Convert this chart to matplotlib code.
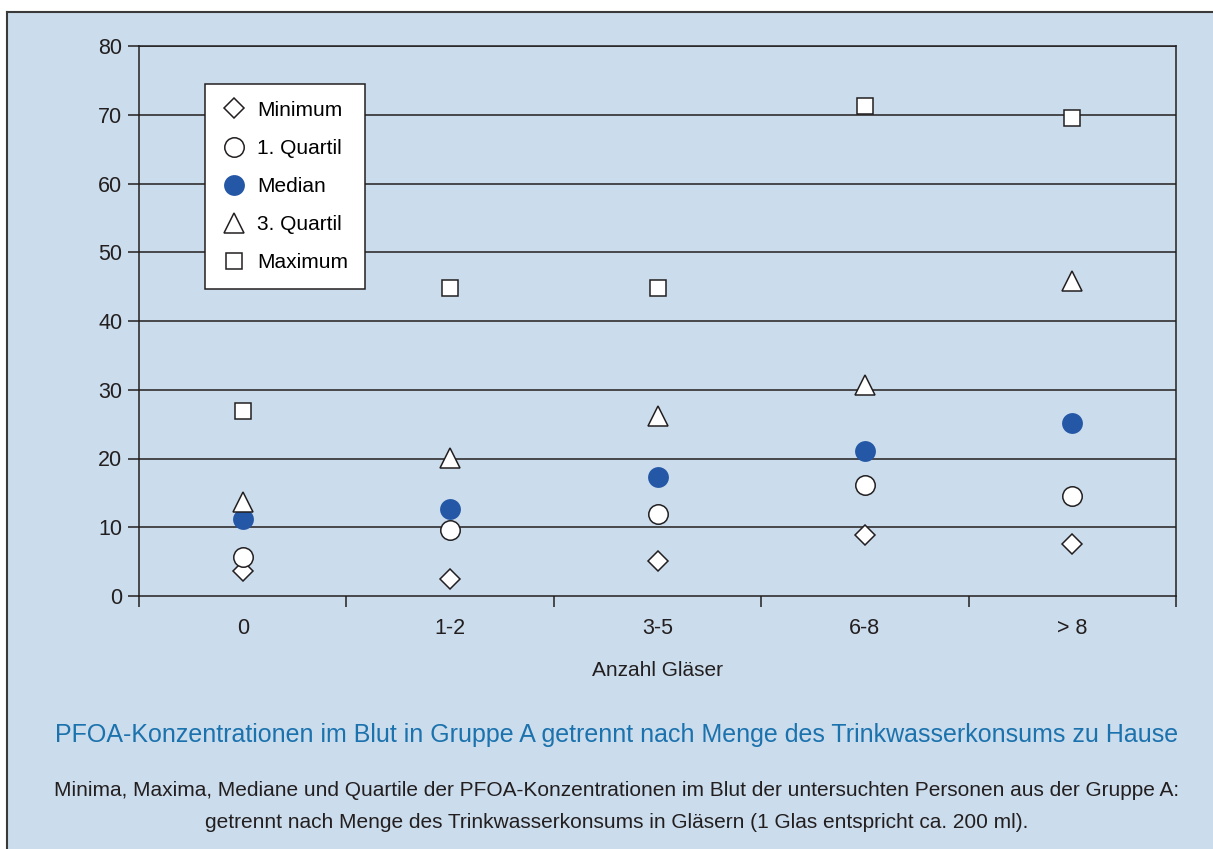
import matplotlib
matplotlib.use("Agg")
import matplotlib.pyplot as plt
from matplotlib import font_manager
from matplotlib.lines import Line2D
from matplotlib.patches import Rectangle

names = {f.name for f in font_manager.fontManager.ttflist}
FONT = "Liberation Sans Narrow" if "Liberation Sans Narrow" in names else "Liberation Sans"
plt.rcParams['font.family'] = [FONT, 'DejaVu Sans']

categories = ["0", "1-2", "3-5", "6-8", "> 8"]
minimum = [3.6, 2.5, 5.1, 8.9, 7.6]
quartil1 = [5.7, 9.6, 11.9, 16.1, 14.5]
median = [11.2, 12.7, 17.3, 21.1, 25.2]
quartil3 = [13.7, 20.1, 26.2, 30.7, 45.8]
maximum = [26.9, 44.8, 44.8, 71.3, 69.5]
yticks = [0, 10, 20, 30, 40, 50, 60, 70, 80]

BG = "#cbdcec"
DARK = "#231f20"
BLUE = "#2457a6"
TITLE = "#1b72ad"

fig = plt.figure(figsize=(12.13, 8.49), dpi=100)
fig.patch.set_facecolor("white")
# background panel with top/left border
fig.patches.append(Rectangle((7/1213, 0), 1 - 7/1213, 1 - 12/849, transform=fig.transFigure,
                             facecolor=BG, edgecolor="none", zorder=-10))
fig.add_artist(Line2D([7/1213, 1], [1 - 12/849, 1 - 12/849], transform=fig.transFigure, color="#3a3a3a", lw=1.5))
fig.add_artist(Line2D([7/1213, 7/1213], [0, 1 - 12/849], transform=fig.transFigure, color="#3a3a3a", lw=1.5))

ax = fig.add_axes([139/1213, 1 - 596/849, (1176 - 139)/1213, 550/849])
ax.set_facecolor(BG)
x = list(range(len(categories)))

ax.set_xlim(-0.5, len(categories) - 0.5)
ax.set_ylim(0, 80)
ax.set_yticks(yticks)
ax.set_yticklabels([str(v) for v in yticks])
for v in yticks[1:]:
    ax.axhline(v, color=DARK, lw=1.1, zorder=1)

ax.set_xticks([i - 0.5 for i in range(len(categories) + 1)])
ax.set_xticklabels([])
ax.set_xticks(x, minor=True)
ax.set_xticklabels(categories, minor=True)
ax.tick_params(axis="x", which="minor", length=0, pad=16, labelsize=15.5, colors=DARK)
ax.tick_params(axis="x", which="major", length=8, width=1.1, direction="out", colors=DARK)
ax.tick_params(axis="y", length=8, width=1.1, direction="out", labelsize=15.5, colors=DARK, pad=4)
for s in ["left", "bottom", "right", "top"]:
    ax.spines[s].set_color(DARK)
    ax.spines[s].set_linewidth(1.1)

kw = dict(linestyle="none", zorder=5)
ax.plot(x, minimum, marker="D", markersize=10, markerfacecolor="white", markeredgecolor=DARK, markeredgewidth=1.1, label="Minimum", **kw)
ax.plot(x, quartil1, marker="o", markersize=14, markerfacecolor="white", markeredgecolor=DARK, markeredgewidth=1.1, label="1. Quartil", **kw)
ax.plot(x, median, marker="o", markersize=15, markerfacecolor=BLUE, markeredgecolor=BLUE, markeredgewidth=0, label="Median", **kw)
ax.plot(x, quartil3, marker="^", markersize=14, markerfacecolor="white", markeredgecolor=DARK, markeredgewidth=1.1, label="3. Quartil", **kw)
ax.plot(x, maximum, marker="s", markersize=11.5, markerfacecolor="white", markeredgecolor=DARK, markeredgewidth=1.1, label="Maximum", **kw)

leg = ax.legend(loc="upper left", bbox_to_anchor=((205 - 139)/1037, 1 - (84 - 46)/550),
                frameon=True, fancybox=False, edgecolor=DARK, facecolor="white", framealpha=1,
                fontsize=15, labelspacing=0.92, handletextpad=0.5, borderpad=0.8, handlelength=1.2,
                borderaxespad=0)
leg.get_frame().set_linewidth(1.1)
leg.set_zorder(10)

fig.text((139 + 1176)/2/1213, 1 - 670/849, "Anzahl Gläser", ha="center", va="center", fontsize=15, color=DARK)
fig.text(617/1213, 1 - 735/849, "PFOA-Konzentrationen im Blut in Gruppe A getrennt nach Menge des Trinkwasserkonsums zu Hause",
         ha="center", va="center", fontsize=18, color=TITLE)
fig.text(617/1213, 1 - 791/849, "Minima, Maxima, Mediane und Quartile der PFOA-Konzentrationen im Blut der untersuchten Personen aus der Gruppe A:",
         ha="center", va="center", fontsize=15, color=DARK)
fig.text(617/1213, 1 - 822/849, "getrennt nach Menge des Trinkwasserkonsums in Gläsern (1 Glas entspricht ca. 200 ml).",
         ha="center", va="center", fontsize=15, color=DARK)

fig.savefig("out.png", dpi=100, facecolor=fig.get_facecolor())
